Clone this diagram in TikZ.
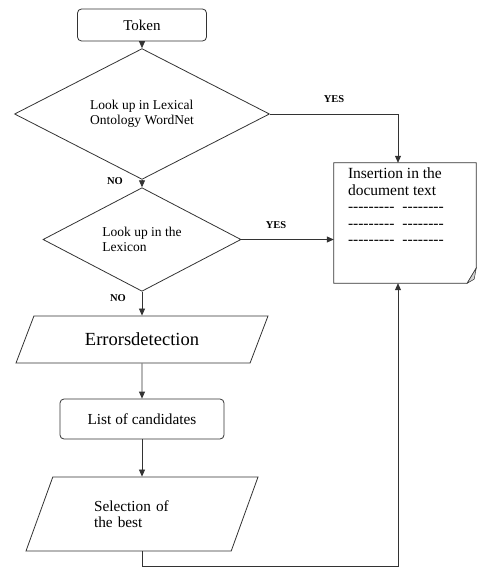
\documentclass[tikz,border=0pt]{standalone}
\usepackage{fontspec}
\setmainfont{Liberation Serif}
\usepackage{tikz}
\usetikzlibrary{positioning,arrows.meta,shapes.geometric}
\newcommand{\dashrun}[1]{\foreach \k in {1,...,#1}{\mbox{-}}}

\begin{document}
\begin{tikzpicture}[x=1pt, y=-1pt,
    flowLine/.style={line width=0.8pt, draw=black!80},
    flowArrow/.style={flowLine, -{Triangle[length=7pt, width=6pt]}},
    roundBox/.style={rectangle, rounded corners=4pt, draw=black!80, line width=0.8pt, inner sep=0pt},
    decisionBox/.style={diamond, draw=black!80, line width=0.8pt, inner sep=0pt, font=\fontsize{13.5}{15}\selectfont, align=left},
    ioBox/.style={trapezium, trapezium left angle=36, trapezium right angle=144, trapezium stretches body, draw=black!80, line width=0.8pt, inner sep=0pt},
    answerTag/.style={font=\fontsize{10.5}{12}\selectfont\bfseries}
]
    \useasboundingbox (0,0) rectangle (477,567);

    % Main column
    \node[roundBox, minimum width=129pt, minimum height=32pt, font=\fontsize{15}{17}\selectfont] (token) at (142,25) {Token};
    \node[decisionBox, minimum width=255pt, minimum height=102pt] (look1) at (142,114) {Look up in Lexical\\Ontology WordNet};
    \node[decisionBox, minimum width=198pt, minimum height=81pt] (look2) at (142,239.5) {Look up in the\\Lexicon};
    \node[ioBox, minimum width=252pt, minimum height=47pt, font=\fontsize{18.5}{20}\selectfont] (errors) at (142,339.5) {Errorsdetection};
    \node[roundBox, minimum width=164pt, minimum height=40pt, font=\fontsize{15.3}{17}\selectfont] (cands) at (142,419) {List of candidates};
    \node[ioBox, trapezium left angle=44.6, trapezium right angle=135.4, minimum width=232pt, minimum height=74pt, font=\fontsize{15.3}{15.5}\selectfont, text width=96pt, align=left] (best) at (142,514) {Selection of\\the best};

    % Document on the right
    \node[inner sep=0pt, minimum width=142pt, minimum height=120pt] (doc) at (405,223) {};
    \node[anchor=north west, align=left, inner sep=0pt, font=\fontsize{15.5}{16.5}\selectfont] (docText) at ([xshift=14pt, yshift=-5pt]doc.north west) {Insertion in the\\document text\\\dashrun{9}\hspace{8pt}\dashrun{8}\\\dashrun{9}\hspace{8pt}\dashrun{8}\\\dashrun{9}\hspace{8pt}\dashrun{8}};
    \draw[flowLine] (doc.north west) -- (doc.north east) -- ([yshift=15pt]doc.south east) -- ([xshift=-9pt]doc.south east) -- (doc.south west) -- cycle;
    \draw[flowLine, fill=gray!35, line width=0.5pt] ([yshift=15pt]doc.south east) -- ([xshift=-9pt]doc.south east) -- ([xshift=-2pt, yshift=4pt]doc.south east) -- cycle;

    % Answer labels
    \node[answerTag] (yes1) at (334,99) {YES};
    \node[answerTag] (no1) at (115,181.5) {NO};
    \node[answerTag] (yes2) at (276,225) {YES};
    \node[answerTag] (no2) at (118,298) {NO};

    % Connectors
    \draw[flowArrow] (token) -- (look1);
    \draw[flowArrow] (look1) -- (look2);
    \draw[flowArrow] (look2) -- (errors);
    \draw[flowArrow] (errors) -- (cands);
    \draw[flowArrow] (cands) -- (best);
    \draw[flowArrow] (look1.east) -| ([xshift=-7pt]doc.north);
    \draw[flowArrow] (look2.east) -- (look2.east -| doc.west);
    \draw[flowArrow] (best.south) -- ++(0,15) -| ([xshift=-7pt]doc.south);
\end{tikzpicture}
\end{document}
